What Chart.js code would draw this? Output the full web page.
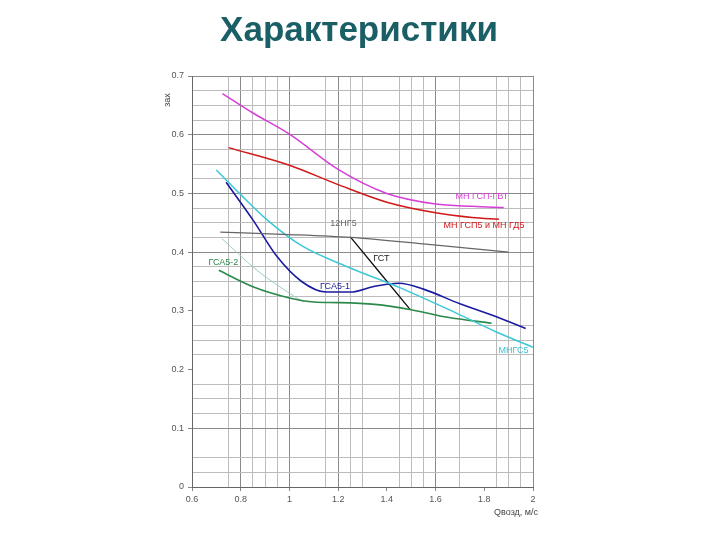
<!DOCTYPE html>
<html>
<head>
<meta charset="utf-8">
<script src="https://cdn.jsdelivr.net/npm/chart.js@4/dist/chart.umd.min.js"></script>
<style>
  html, body { margin: 0; padding: 0; background: #fff; }
  #wrap { width: 720px; height: 540px; position: relative; }
</style>
</head>
<body>
<div id="wrap"><canvas id="chart" width="720" height="540"></canvas></div>
<script>
// grid / ticks
const xGrid = [0.6, 0.75, 0.8, 0.85, 0.9, 0.95, 1.0, 1.15, 1.2, 1.25, 1.3, 1.4, 1.45, 1.5, 1.55, 1.6, 1.7, 1.8, 1.85, 1.9, 1.95, 2.0];
const xLabels = [0.6, 0.8, 1.0, 1.2, 1.4, 1.6, 1.8, 2.0];
const xNoLine = [1.4, 1.8];
const yGrid = [0, 0.025, 0.05, 0.1, 0.125, 0.15, 0.175, 0.2, 0.225, 0.25, 0.275, 0.3, 0.325, 0.35, 0.375, 0.4, 0.425, 0.45, 0.475, 0.5, 0.525, 0.55, 0.575, 0.6, 0.625, 0.65, 0.675, 0.7];
const yLabels = [0, 0.1, 0.2, 0.3, 0.4, 0.5, 0.6, 0.7];
const yNoLine = [0.2, 0.3];

// series
const mgX = [0.725, 0.85, 1.0, 1.2, 1.4, 1.6, 1.75, 1.88];
const mgY = [0.670, 0.637, 0.601, 0.541, 0.500, 0.482, 0.478, 0.476];
const rdX = [0.75, 1.0, 1.2, 1.4, 1.6, 1.75, 1.86];
const rdY = [0.578, 0.548, 0.515, 0.485, 0.467, 0.459, 0.456];
const grX = [0.716, 1.0, 1.25, 1.55, 1.9];
const grY = [0.434, 0.430, 0.425, 0.414, 0.400];
const cyX = [0.70, 0.8, 0.9, 1.05, 1.25, 1.45, 1.65, 1.85, 2.0];
const cyY = [0.540, 0.498, 0.458, 0.411, 0.373, 0.340, 0.303, 0.264, 0.238];
const blX = [0.74, 0.85, 0.95, 1.05, 1.15, 1.25, 1.35, 1.45, 1.55, 1.7, 1.85, 1.97];
const blY = [0.519, 0.455, 0.392, 0.350, 0.332, 0.332, 0.342, 0.347, 0.337, 0.312, 0.290, 0.270];
const gnX = [0.71, 0.85, 1.0, 1.1, 1.2, 1.35, 1.5, 1.65, 1.83];
const gnY = [0.369, 0.341, 0.322, 0.315, 0.314, 0.311, 0.302, 0.289, 0.279];
const ltX = [0.723, 0.867, 1.0, 1.058];
const ltY = [0.423, 0.369, 0.330, 0.315];
const gstX = [1.25, 1.496];
const gstY = [0.426, 0.302];

// curve labels: [text, x, y, colour]
const curveLabels = [
  ["МН ГСП-ГВТ", 1.682, 0.495, "#d63fd6"],
  ["МН ГСП5 и МН ГД5", 1.633, 0.446, "#d01818"],
  ["12НГ5", 1.168, 0.449, "#666"],
  ["ГСТ", 1.344, 0.389, "#222"],
  ["ГСА5-1", 1.126, 0.342, "#1a1aa0"],
  ["ГСА5-2", 0.668, 0.383, "#2a8a4a"],
  ["МНГС5", 1.858, 0.233, "#3cc0d0"]
];

const pts = (xs, ys) => xs.map((x, i) => ({ x: x, y: ys[i] }));
const near = (arr, v) => arr.some(a => Math.abs(a - v) < 1e-6);

function line(label, xs, ys, color, width, tension) {
  return {
    label: label,
    data: pts(xs, ys),
    borderColor: color,
    borderWidth: width,
    showLine: true,
    pointRadius: 0,
    tension: tension,
    cubicInterpolationMode: "monotone",
    fill: false
  };
}

const textPlugin = {
  id: "texts",
  afterDraw(chart) {
    const ctx = chart.ctx;
    const xs = chart.scales.x, ys = chart.scales.y;
    ctx.save();
    ctx.fillStyle = "#1b5f66";
    ctx.font = "bold 35px 'Liberation Sans', Arial, sans-serif";
    ctx.textAlign = "center";
    ctx.textBaseline = "middle";
    ctx.fillText("Характеристики", 359, 31);

    ctx.font = "9px 'Liberation Sans', Arial, sans-serif";
    ctx.textBaseline = "middle";
    curveLabels.forEach(l => {
      ctx.fillStyle = l[3];
      ctx.textAlign = "left";
      ctx.fillText(l[0], xs.getPixelForValue(l[1]), ys.getPixelForValue(l[2]));
    });

    ctx.fillStyle = "#444";
    ctx.textAlign = "right";
    ctx.fillText("Qвозд, м/с", 538, 513);

    ctx.translate(168, 100);
    ctx.rotate(-Math.PI / 2);
    ctx.textAlign = "center";
    ctx.fillText("зах", 0, 0);
    ctx.restore();
  }
};

document.addEventListener("DOMContentLoaded", () => {
  const ctx = document.getElementById("chart");
  new Chart(ctx, {
    type: "scatter",
    data: {
      datasets: [
        line("МН ГСП-ГВТ", mgX, mgY, "#d63fd6", 1.5, 0.4),
        line("МН ГСП5 и МН ГД5", rdX, rdY, "#d01818", 1.5, 0.4),
        line("12НГ5", grX, grY, "#666666", 1.2, 0.4),
        line("МНГС5", cyX, cyY, "#3cc8d8", 1.5, 0.4),
        line("ГСА5-1", blX, blY, "#1a1aa0", 1.6, 0.4),
        line("ГСА5-2", gnX, gnY, "#2a8a4a", 1.6, 0.4),
        line("", ltX, ltY, "#9ccccc", 1, 0.4),
        line("ГСТ", gstX, gstY, "#111111", 1.3, 0)
      ]
    },
    options: {
      responsive: false,
      animation: false,
      layout: { padding: { left: 0, right: 187, top: 76, bottom: 13 } },
      plugins: {
        legend: { display: false },
        tooltip: { enabled: false },
        title: { display: false }
      },
      scales: {
        x: {
          type: "linear",
          min: 0.6,
          max: 2.0,
          afterBuildTicks: s => { s.ticks = xGrid.map(v => ({ value: v })); },
          afterFit: s => { s.height = 40; },
          ticks: {
            autoSkip: false,
            maxRotation: 0,
            padding: 3,
            color: "#555",
            font: { size: 9, family: "'Liberation Sans', Arial, sans-serif" },
            callback: v => near(xLabels, v) ? String(Math.round(v * 10) / 10) : ""
          },
          grid: {
            color: c => near(xNoLine, c.tick.value) ? "rgba(0,0,0,0)" :
              (near([0.8, 1.0, 1.2, 1.6, 2.0], c.tick.value) ? "#8a8a8a" : "#bcbcbc"),
            tickLength: 4,
            tickColor: c => near(xLabels, c.tick.value) ? "#888" : "rgba(0,0,0,0)"
          },
          border: { color: "#666", width: 1 }
        },
        y: {
          type: "linear",
          min: 0,
          max: 0.7,
          afterBuildTicks: s => { s.ticks = yGrid.map(v => ({ value: v })); },
          afterFit: s => { s.width = 192; },
          ticks: {
            autoSkip: false,
            padding: 4,
            color: "#555",
            font: { size: 9, family: "'Liberation Sans', Arial, sans-serif" },
            callback: v => near(yLabels, v) ? String(Math.round(v * 10) / 10) : ""
          },
          grid: {
            color: c => near(yNoLine, c.tick.value) ? "rgba(0,0,0,0)" :
              (near([0.1, 0.4, 0.5, 0.6, 0.7], c.tick.value) ? "#8a8a8a" : "#bcbcbc"),
            tickLength: 4,
            tickColor: c => near(yLabels, c.tick.value) ? "#888" : "rgba(0,0,0,0)"
          },
          border: { color: "#666", width: 1 }
        }
      }
    },
    plugins: [textPlugin]
  });
});
</script>
</body>
</html>
